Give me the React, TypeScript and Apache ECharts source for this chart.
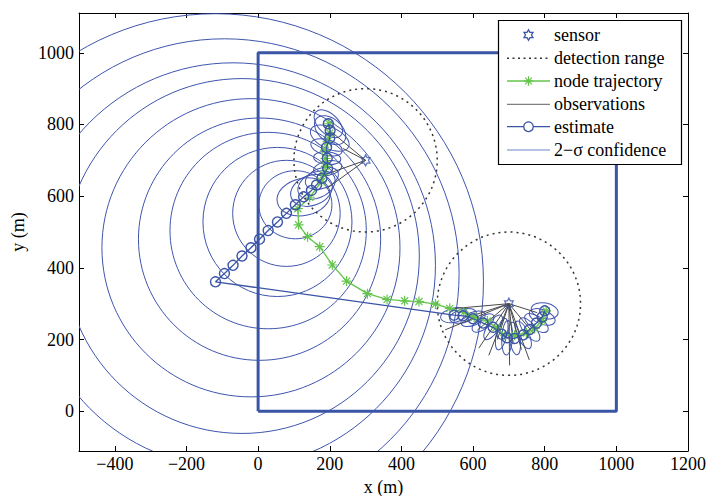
import React, { useEffect, useRef } from 'react';
import * as echarts from 'echarts';

// ---------------- data ----------------
const xTicks: number[] = [-400, -200, 0, 200, 400, 600, 800, 1000, 1200];
const yTicks: number[] = [0, 200, 400, 600, 800, 1000];

const sensors: number[][] = [[300, 700], [700, 300]];
// [cx, cy, radius]
const detectionRange: number[][] = [[300, 700, 200], [700, 300, 200]];
const fieldBoundary: number[][] = [[0, 0], [1000, 0], [1000, 1000], [0, 1000], [0, 0]];

const nodeTrajectory: number[][] = [
  [198, 802], [200, 776], [194, 752], [187, 728], [188, 705], [189, 683], [182, 660], [177, 640],
  [144, 597], [111, 565], [113, 520], [138, 487], [172, 459], [207, 408], [247, 363], [305, 328],
  [360, 312], [409, 308], [449, 306], [495, 299], [535, 287], [574, 276], [603, 262], [640, 252],
  [664, 233], [689, 212], [716, 212], [749, 218], [772, 231], [793, 253], [804, 280],
];

const estimateTrack: number[][] = [
  [196, 802], [201, 784], [200, 762], [191, 736], [193, 706], [194, 678], [178, 650], [163, 631],
  [149, 616], [127, 598], [104, 576], [79, 552], [54, 528], [28, 504], [4, 480], [-20, 456],
  [-45, 433], [-70, 407], [-94, 384], [-119, 361],
  [547, 268], [572, 266], [600, 258], [628, 246], [656, 234], [680, 215], [695, 205], [716, 203],
  [740, 213], [758, 228], [777, 246], [793, 263], [800, 280],
];

// [cx, cy, semi-axis a, semi-axis b, angle of a (deg)]
const confidence: number[][] = [
  [196, 802, 48, 28, 136], [201, 784, 50, 32, 140], [200, 762, 58, 30, 155], [191, 736, 45, 22, 165],
  [193, 706, 38, 18, 175], [194, 678, 40, 20, 192], [178, 650, 48, 28, 200], [163, 631, 55, 36, 205],
  [149, 616, 60, 42, 20], [127, 598, 75, 52, 12], [104, 576, 102, 95, 0], [79, 552, 150, 148, 0],
  [54, 528, 208, 208, 0], [28, 504, 274, 274, 0], [4, 480, 338, 338, 0], [-20, 456, 416, 416, 0],
  [-45, 433, 495, 495, 0], [-70, 407, 565, 565, 0], [-94, 384, 655, 655, 0], [-119, 361, 748, 748, 0],
  [547, 268, 38, 20, 12], [572, 266, 38, 19, 15], [600, 258, 36, 18, 23], [628, 246, 36, 17, 37],
  [656, 234, 40, 16, 56], [680, 215, 45, 15, 77], [695, 205, 48, 15, 87], [716, 203, 46, 15, 99],
  [740, 213, 42, 16, 115], [758, 228, 40, 17, 129], [777, 246, 38, 18, 145], [793, 263, 38, 20, 158],
  [800, 280, 38, 22, 169],
];

// [sensor x, sensor y, observed x, observed y]
const observations: number[][] = [
  [300, 700, 205, 779], [300, 700, 237, 733], [300, 700, 181, 658], [300, 700, 191, 621],
  [700, 300, 541, 286], [700, 300, 522, 227], [700, 300, 584, 262], [700, 300, 612, 226],
  [700, 300, 616, 176], [700, 300, 644, 156], [700, 300, 668, 200], [700, 300, 702, 128],
  [700, 300, 712, 188], [700, 300, 735, 172], [700, 300, 757, 143], [700, 300, 768, 218],
  [700, 300, 779, 275],
];

const legendNames: string[] = [
  'sensor', 'detection range', 'node trajectory', 'observations', 'estimate', '2\u2212\u03c3 confidence',
];

// ---------------- styles ----------------
const BLUE = '#3a54a6';
const ELLIPSE = '#3f55ae';
const GREEN = '#64c44c';
const OBS = '#4a4a4a';
const DOT = '#333333';
const CONF_LEGEND = '#6f86c9';
const FONT = '"Liberation Serif", "Times New Roman", "DejaVu Serif", serif';
const FS = 18;

const HEX_PATH =
  'path://M0,-10L2.887,-5L8.66,-5L5.774,0L8.66,5L2.887,5L0,10L-2.887,5L-8.66,5L-5.774,0L-8.66,-5L-2.887,-5Z';
const STAR_PATH = 'path://M0,-10L0,10M-10,0L10,0M-7.07,-7.07L7.07,7.07M-7.07,7.07L7.07,-7.07';
const HEX_UNIT = [
  [0, -1], [0.2887, -0.5], [0.866, -0.5], [0.5774, 0], [0.866, 0.5], [0.2887, 0.5],
  [0, 1], [-0.2887, 0.5], [-0.866, 0.5], [-0.5774, 0], [-0.866, -0.5], [-0.2887, -0.5],
];

const fmt = (list: number[]) => (v: number) =>
  list.includes(Math.round(v)) && Math.abs(v - Math.round(v)) < 1e-6
    ? v < 0 ? '\u2212' + Math.abs(v) : String(v)
    : '';

function buildLegend(): any[] {
  const box = { x: 498.5, y: 20.5, w: 183, h: 144 };
  const rows = [35, 58.3, 81, 104.3, 126.7, 150];
  const x0 = 507, x1 = 550, xm = 528.5, tx = 554;
  const els: any[] = [];
  els.push({
    type: 'rect', z: 100, shape: { x: box.x, y: box.y, width: box.w, height: box.h },
    style: { fill: '#fff', stroke: '#000', lineWidth: 1.2 },
  });
  els.push({
    type: 'polygon', z: 101,
    shape: { points: HEX_UNIT.map((p) => [xm + p[0] * 5.2, rows[0] + p[1] * 5.2]) },
    style: { fill: 'none', stroke: BLUE, lineWidth: 1.3 },
  });
  els.push({
    type: 'line', z: 101, shape: { x1: x0, y1: rows[1], x2: x1, y2: rows[1] },
    style: { stroke: DOT, lineWidth: 1.4, lineDash: [2, 3.5] },
  });
  els.push({
    type: 'line', z: 101, shape: { x1: x0, y1: rows[2], x2: x1, y2: rows[2] },
    style: { stroke: GREEN, lineWidth: 1.3 },
  });
  const r = 4.8;
  const d = r * 0.707;
  [[0, -r, 0, r], [-r, 0, r, 0], [-d, -d, d, d], [-d, d, d, -d]].forEach((s) => {
    els.push({
      type: 'line', z: 102,
      shape: { x1: xm + s[0], y1: rows[2] + s[1], x2: xm + s[2], y2: rows[2] + s[3] },
      style: { stroke: GREEN, lineWidth: 1.2 },
    });
  });
  els.push({
    type: 'line', z: 101, shape: { x1: x0, y1: rows[3], x2: x1, y2: rows[3] },
    style: { stroke: '#808080', lineWidth: 1.2 },
  });
  els.push({
    type: 'line', z: 101, shape: { x1: x0, y1: rows[4], x2: x1, y2: rows[4] },
    style: { stroke: BLUE, lineWidth: 1.3 },
  });
  els.push({
    type: 'circle', z: 102, shape: { cx: xm, cy: rows[4], r: 4.8 },
    style: { fill: '#fff', stroke: BLUE, lineWidth: 1.3 },
  });
  els.push({
    type: 'line', z: 101, shape: { x1: x0, y1: rows[5], x2: x1, y2: rows[5] },
    style: { stroke: CONF_LEGEND, lineWidth: 1.2 },
  });
  legendNames.forEach((name, i) => {
    els.push({
      type: 'text', z: 102,
      style: {
        text: name, x: tx, y: rows[i], fill: '#000', fontSize: FS, fontFamily: FONT,
        textAlign: 'left', textVerticalAlign: 'middle', align: 'left', verticalAlign: 'middle',
      },
    });
  });
  return els;
}

export default function App() {
  const ref = useRef<HTMLDivElement>(null);

  useEffect(() => {
    document.body.style.margin = '0';
    if (!ref.current) return;
    const chart = echarts.init(ref.current, undefined, { renderer: 'svg' });

    const axisCommon = {
      type: 'value' as const,
      splitLine: { show: false },
      axisLine: { show: true, onZero: false, lineStyle: { color: '#000', width: 1 } },
      axisTick: { show: true, inside: true, length: 5, lineStyle: { color: '#000', width: 1 } },
      minInterval: 200,
      maxInterval: 200,
    };

    const option: any = {
      animation: false,
      backgroundColor: '#fff',
      textStyle: { fontFamily: FONT },
      grid: { left: 79, right: 20, top: 13, bottom: 45, containLabel: false, outerBoundsMode: 'none' },
      xAxis: [
        {
          ...axisCommon, position: 'bottom', min: -500, max: 1200, splitNumber: 8,
          axisLabel: { formatter: fmt(xTicks), fontFamily: FONT, fontSize: FS, color: '#000', margin: 4 },
          name: 'x (m)', nameLocation: 'middle', nameGap: 26,
          nameTextStyle: { fontFamily: FONT, fontSize: FS, color: '#000' },
        },
        {
          ...axisCommon, position: 'top', min: -500, max: 1200, splitNumber: 8,
          axisLabel: { show: false },
        },
      ],
      yAxis: [
        {
          ...axisCommon, position: 'left', min: -111, max: 1111, splitNumber: 6,
          axisLabel: { formatter: fmt(yTicks), fontFamily: FONT, fontSize: FS, color: '#000', margin: 5 },
          name: 'y (m)', nameLocation: 'middle', nameGap: 46, nameRotate: 90,
          nameTextStyle: { fontFamily: FONT, fontSize: FS, color: '#000' },
        },
        {
          ...axisCommon, position: 'right', min: -111, max: 1111, splitNumber: 6,
          axisLabel: { show: false },
        },
      ],
      graphic: buildLegend(),
      series: [
        {
          name: 'field', type: 'line', data: fieldBoundary, symbol: 'none', silent: true, z: 1,
          lineStyle: { color: BLUE, width: 3 },
        },
        {
          name: '2-σ confidence', type: 'custom', data: confidence, clip: true, silent: true, z: 2,
          encode: { x: 0, y: 1 },
          renderItem: (_p: any, api: any) => {
            const c = api.coord([api.value(0), api.value(1)]);
            const s = api.size([api.value(2), api.value(3)]);
            return {
              type: 'ellipse', x: c[0], y: c[1], rotation: (api.value(4) * Math.PI) / 180,
              shape: { cx: 0, cy: 0, rx: s[0], ry: s[1] },
              style: { fill: 'none', stroke: ELLIPSE, lineWidth: 1 },
            };
          },
        },
        {
          name: 'detection range', type: 'custom', data: detectionRange, clip: true, silent: true, z: 3,
          encode: { x: 0, y: 1 },
          renderItem: (_p: any, api: any) => {
            const c = api.coord([api.value(0), api.value(1)]);
            const s = api.size([api.value(2), api.value(2)]);
            return {
              type: 'ellipse', shape: { cx: c[0], cy: c[1], rx: s[0], ry: s[1] },
              style: { fill: 'none', stroke: DOT, lineWidth: 1.5, lineDash: [2, 4] },
            };
          },
        },
        {
          name: 'observations', type: 'custom', data: observations, clip: true, silent: true, z: 4,
          encode: { x: [0, 2], y: [1, 3] },
          renderItem: (_p: any, api: any) => {
            const a = api.coord([api.value(0), api.value(1)]);
            const b = api.coord([api.value(2), api.value(3)]);
            return {
              type: 'line', shape: { x1: a[0], y1: a[1], x2: b[0], y2: b[1] },
              style: { stroke: OBS, lineWidth: 1 },
            };
          },
        },
        {
          name: 'node trajectory', type: 'line', data: nodeTrajectory, silent: true, z: 5,
          symbol: STAR_PATH, symbolSize: 10,
          lineStyle: { color: GREEN, width: 1.3 },
          itemStyle: { color: GREEN, borderColor: GREEN, borderWidth: 1.2 },
        },
        {
          name: 'estimate', type: 'line', data: estimateTrack, silent: true, z: 6,
          symbol: 'circle', symbolSize: 10,
          lineStyle: { color: BLUE, width: 1.3 },
          itemStyle: { color: 'rgba(0,0,0,0)', borderColor: BLUE, borderWidth: 1.4 },
        },
        {
          name: 'sensor', type: 'scatter', data: sensors, silent: true, z: 7,
          symbol: HEX_PATH, symbolSize: [10, 11], symbolKeepAspect: true,
          itemStyle: { color: 'rgba(0,0,0,0)', borderColor: BLUE, borderWidth: 1.3 },
        },
      ],
    };

    chart.setOption(option);
    return () => chart.dispose();
  }, []);

  return <div ref={ref} style={{ width: 708, height: 496 }} />;
}
